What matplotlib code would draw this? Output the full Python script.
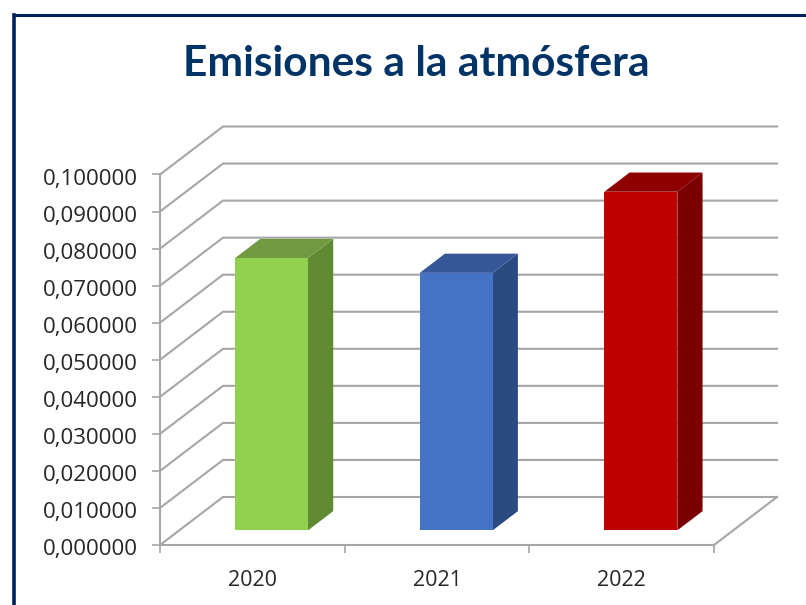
import matplotlib
matplotlib.use("Agg")
import matplotlib.pyplot as plt
from matplotlib.lines import Line2D
from matplotlib.transforms import ScaledTranslation

title = "Emisiones a la atmósfera"
categories = ["2020", "2021", "2022"]
values = [0.0735, 0.0695, 0.0914]
front_colors = ["#92D050", "#4472C4", "#C00000"]
top_colors = ["#71993F", "#365798", "#8E0000"]
side_colors = ["#5F8A33", "#2B4A80", "#7A0000"]
y_ticks = [i / 100 for i in range(0, 11)]
y_labels = [f"{t:.6f}".replace(".", ",") for t in y_ticks]

W, H = 806, 605
GRID = "#A6A6A6"
NAVY = "#002060"

fig = plt.figure(figsize=(W / 100, H / 100), dpi=100, facecolor="white")
ax = fig.add_axes([160 / W, (H - 545) / H, 554 / W, 370.5 / H])
ax.set_xlim(0, 3)
ax.set_ylim(0, 0.1)
ax.patch.set_visible(False)

px_x = 3 / 554
px_y = 0.1 / 370.5
DX, DY = 63 * px_x, 48 * px_y  # depth of the chart box
BAR_W = 0.395
D0, D1 = 0.305, 0.705


def proj(x, y, d):
    return x + d * DX, y + d * DY


# walls
for t in y_ticks:
    x0, y0 = proj(0, t, 0)
    x1, y1 = proj(0, t, 1)
    x2, y2 = proj(3, t, 1)
    ax.plot([x0, x1, x2], [y0, y1, y2], color=GRID, lw=1.5, clip_on=False, zorder=1,
            solid_joinstyle="round")
xa, ya = proj(3, 0, 0)
xb, yb = proj(3, 0, 1)
ax.plot([xa, xb], [ya, yb], color=GRID, lw=1.5, clip_on=False, zorder=1)

# bars
for i, v in enumerate(values):
    l, r = i + 0.5 - BAR_W / 2, i + 0.5 + BAR_W / 2
    side = [proj(r, 0, D0), proj(r, 0, D1), proj(r, v, D1), proj(r, v, D0)]
    top = [proj(l, v, D0), proj(l, v, D1), proj(r, v, D1), proj(r, v, D0)]
    ax.fill(*zip(*side), color=side_colors[i], lw=0, clip_on=False, zorder=3)
    ax.fill(*zip(*top), color=top_colors[i], lw=0, clip_on=False, zorder=3)
    fx, fy = proj(l, 0, D0)
    ax.bar(fx, v, width=BAR_W, bottom=fy, align="edge", color=front_colors[i], lw=0,
           clip_on=False, zorder=4)

for s in ["top", "right"]:
    ax.spines[s].set_visible(False)
for s in ["left", "bottom"]:
    ax.spines[s].set_color(GRID)
    ax.spines[s].set_linewidth(1.5)
ax.set_xticks([0, 1, 2, 3])
ax.set_xticklabels([])
ax.set_xticks([0.5, 1.5, 2.5], minor=True)
ax.set_xticklabels(categories, minor=True, fontsize=15.5, color="#262626", family="Open Sans")
ax.tick_params(axis="x", which="major", length=6, width=1.2, color=GRID)
ax.tick_params(axis="x", which="minor", length=0, pad=18)
ax.set_yticks(y_ticks)
ax.set_yticklabels(y_labels, fontsize=16, color="#262626", family="Open Sans")
ax.tick_params(axis="y", length=6, width=1.2, color=GRID, pad=10)
shift = ScaledTranslation(0, -2.5 / 100, fig.dpi_scale_trans)
for lab in ax.get_yticklabels():
    lab.set_transform(lab.get_transform() + shift)

fig.text(416 / W, 1 - 75.5 / H, title, ha="center", va="baseline", fontsize=30.6,
         fontweight="bold", color="#003366", family="Lato")

# slide frame
fig.add_artist(Line2D([14.2 / W, 14.2 / W], [0, 1 - 14.8 / H], color=NAVY, lw=2.6,
                      solid_capstyle="projecting"))
fig.add_artist(Line2D([14.2 / W, 1], [1 - 14.8 / H, 1 - 14.8 / H], color=NAVY, lw=2.2,
                      solid_capstyle="projecting"))

fig.savefig("out.png", dpi=100)
